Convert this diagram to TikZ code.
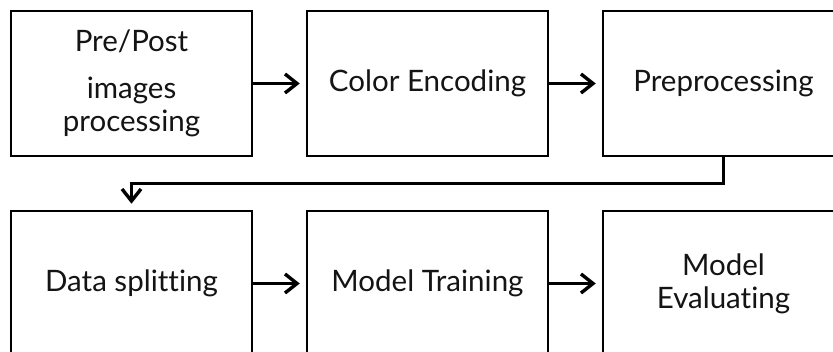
\documentclass[tikz,border=0pt]{standalone}
\usepackage{fontspec}
\setmainfont[Ligatures={NoCommon,NoRequired,NoContextual}]{Lato}
\usetikzlibrary{arrows.meta}
\tikzset{
  stagebox/.style={draw=black, line width=2.5pt, fill=white, minimum width=241pt, minimum height=145pt,
    inner sep=0pt, align=center, font=\fontsize{29.5}{33}\selectfont, text=black!92},
  flowarrow/.style={line width=3.4pt, -{Straight Barb[length=12pt,width=19pt,line width=3.4pt]}, shorten >=6pt}
}
\begin{document}
\begin{tikzpicture}[x=1pt,y=-1pt]
\useasboundingbox (0,0) rectangle (833,352);
\node[stagebox] (b1) at (131.5,83.5) {Pre/Post\\[14pt]images\\processing};
\node[stagebox] (b2) at (427.5,83.5) {Color Encoding};
\node[stagebox] (b3) at (723.5,83.5) {Preprocessing};
\node[stagebox] (b4) at (131.5,283.5) {Data splitting};
\node[stagebox] (b5) at (427.5,283.5) {Model Training};
\node[stagebox] (b6) at (723.5,283.5) {Model\\Evaluating};
\draw[flowarrow] (b1) -- (b2);
\draw[flowarrow] (b2) -- (b3);
\draw[flowarrow] (b4) -- (b5);
\draw[flowarrow] (b5) -- (b6);
\draw[flowarrow] (b3.south) -- ++(0,26.5) -| (b4.north);
\end{tikzpicture}
\end{document}
